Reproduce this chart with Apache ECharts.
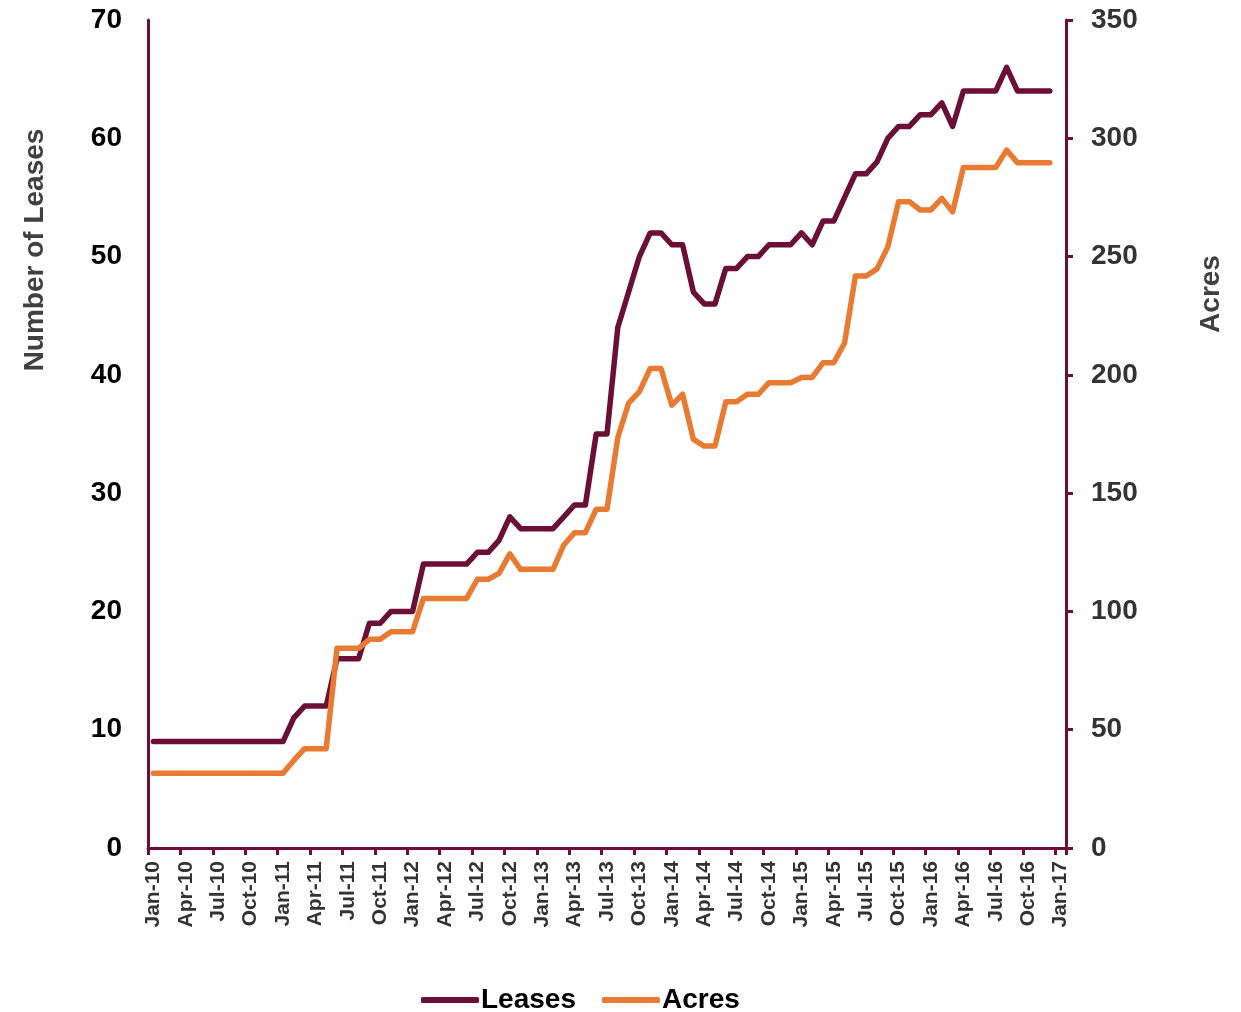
<!DOCTYPE html>
<html>
<head>
<meta charset="utf-8">
<script src="https://cdn.jsdelivr.net/npm/echarts@6/dist/echarts.min.js"></script>
<style>
html,body{margin:0;padding:0;background:#fff;}
#chart{width:1241px;height:1012px;}
</style>
</head>
<body>
<div id="chart"></div>
<script>
var months = [
 'Jan-10','Feb-10','Mar-10','Apr-10','May-10','Jun-10','Jul-10','Aug-10','Sep-10','Oct-10','Nov-10','Dec-10',
 'Jan-11','Feb-11','Mar-11','Apr-11','May-11','Jun-11','Jul-11','Aug-11','Sep-11','Oct-11','Nov-11','Dec-11',
 'Jan-12','Feb-12','Mar-12','Apr-12','May-12','Jun-12','Jul-12','Aug-12','Sep-12','Oct-12','Nov-12','Dec-12',
 'Jan-13','Feb-13','Mar-13','Apr-13','May-13','Jun-13','Jul-13','Aug-13','Sep-13','Oct-13','Nov-13','Dec-13',
 'Jan-14','Feb-14','Mar-14','Apr-14','May-14','Jun-14','Jul-14','Aug-14','Sep-14','Oct-14','Nov-14','Dec-14',
 'Jan-15','Feb-15','Mar-15','Apr-15','May-15','Jun-15','Jul-15','Aug-15','Sep-15','Oct-15','Nov-15','Dec-15',
 'Jan-16','Feb-16','Mar-16','Apr-16','May-16','Jun-16','Jul-16','Aug-16','Sep-16','Oct-16','Nov-16','Dec-16',
 'Jan-17'
];

var leases = [
 9,9,9,9,9,9,9,9,9,9,9,9,
 9,11,12,12,12,16,16,16,19,19,20,20,
 20,24,24,24,24,24,25,25,26,28,27,27,
 27,27,28,29,29,35,35,44,47,50,52,52,
 51,51,47,46,46,49,49,50,50,51,51,51,
 52,51,53,53,55,57,57,58,60,61,61,62,
 62,63,61,64,64,64,64,66,64,64,64,64
];

var acres = [
 31.6,31.6,31.6,31.6,31.6,31.6,31.6,31.6,31.6,31.6,31.6,31.6,
 31.6,37,42,42,42,84.4,84.4,84.4,88.2,88.2,91.4,91.4,
 91.4,105.5,105.5,105.5,105.5,105.5,113.6,113.6,116.1,124.3,117.8,117.8,
 117.8,117.8,128.1,133.3,133.3,143.2,143.2,173.5,188,192.9,202.7,202.7,
 187.2,191.8,172.7,169.9,169.9,188.6,188.6,191.8,191.8,196.7,196.7,196.7,
 198.9,198.9,205.1,205.1,213.5,241.8,241.8,244.8,254.1,273.2,273.2,269.7,
 269.7,274.6,268.9,287.7,287.7,287.7,287.7,295,289.7,289.7,289.7,289.7
];

var leftTicks = [0,10,20,30,40,50,60,70];
var rightTicks = [0,50,100,150,200,250,300,350];

var MAROON = '#6B0F36';
var ORANGE = '#E87A32';
var FONT = '"Liberation Sans", Arial, sans-serif';

var chart = echarts.init(document.getElementById('chart'), null, {renderer:'canvas'});
chart.setOption({
  animation: false,
  backgroundColor: '#ffffff',
  grid: {left: 148, right: 175, top: 20, bottom: 164, containLabel: false},
  legend: {
    left: 416, top: 981,
    itemWidth: 58, itemHeight: 6, itemGap: 26,
    icon: 'roundRect',
    textStyle: {fontFamily: FONT, fontSize: 28, fontWeight: 'bold', color: '#000', padding: [0,0,0,-3]},
    data: ['Leases','Acres']
  },
  xAxis: {
    type: 'category',
    data: months,
    boundaryGap: true,
    axisLine: {lineStyle: {color: MAROON, width: 3}},
    axisTick: {show: true, interval: 2, length: 7, lineStyle: {color: MAROON, width: 3}},
    axisLabel: {
      interval: 2, rotate: 90, margin: 13,
      fontFamily: FONT, fontSize: 21, fontWeight: 'bold', color: '#333'
    },
    splitLine: {show: false}
  },
  yAxis: [
    {
      type: 'value', position: 'left',
      min: leftTicks[0], max: leftTicks[leftTicks.length-1], interval: 10,
      axisLine: {show: true, lineStyle: {color: MAROON, width: 3}},
      axisTick: {show: false},
      axisLabel: {margin: 26, fontFamily: FONT, fontSize: 28, fontWeight: 'bold', color: '#000'},
      splitLine: {show: false}
    },
    {
      type: 'value', position: 'right',
      min: rightTicks[0], max: rightTicks[rightTicks.length-1], interval: 50,
      axisLine: {show: true, lineStyle: {color: MAROON, width: 3}},
      axisTick: {show: true, inside: false, length: 7, lineStyle: {color: MAROON, width: 3}},
      axisLabel: {margin: 25, fontFamily: FONT, fontSize: 28, fontWeight: 'bold', color: '#333'},
      splitLine: {show: false}
    }
  ],
  graphic: [
    {
      type: 'text', x: 35, y: 250, rotation: Math.PI/2,
      style: {text: 'Number of Leases', font: 'bold 28px ' + FONT, fill: '#404040',
              textAlign: 'center', textVerticalAlign: 'middle'}
    },
    {
      type: 'text', x: 1211, y: 294, rotation: Math.PI/2,
      style: {text: 'Acres', font: 'bold 28px ' + FONT, fill: '#404040',
              textAlign: 'center', textVerticalAlign: 'middle'}
    }
  ],
  series: [
    {
      name: 'Leases', type: 'line', yAxisIndex: 0, data: leases,
      showSymbol: false, symbol: 'none',
      lineStyle: {color: MAROON, width: 5.5, cap: 'round', join: 'round'},
      itemStyle: {color: MAROON}
    },
    {
      name: 'Acres', type: 'line', yAxisIndex: 1, data: acres,
      showSymbol: false, symbol: 'none',
      lineStyle: {color: ORANGE, width: 5.5, cap: 'round', join: 'round'},
      itemStyle: {color: ORANGE}
    }
  ]
});
</script>
</body>
</html>
